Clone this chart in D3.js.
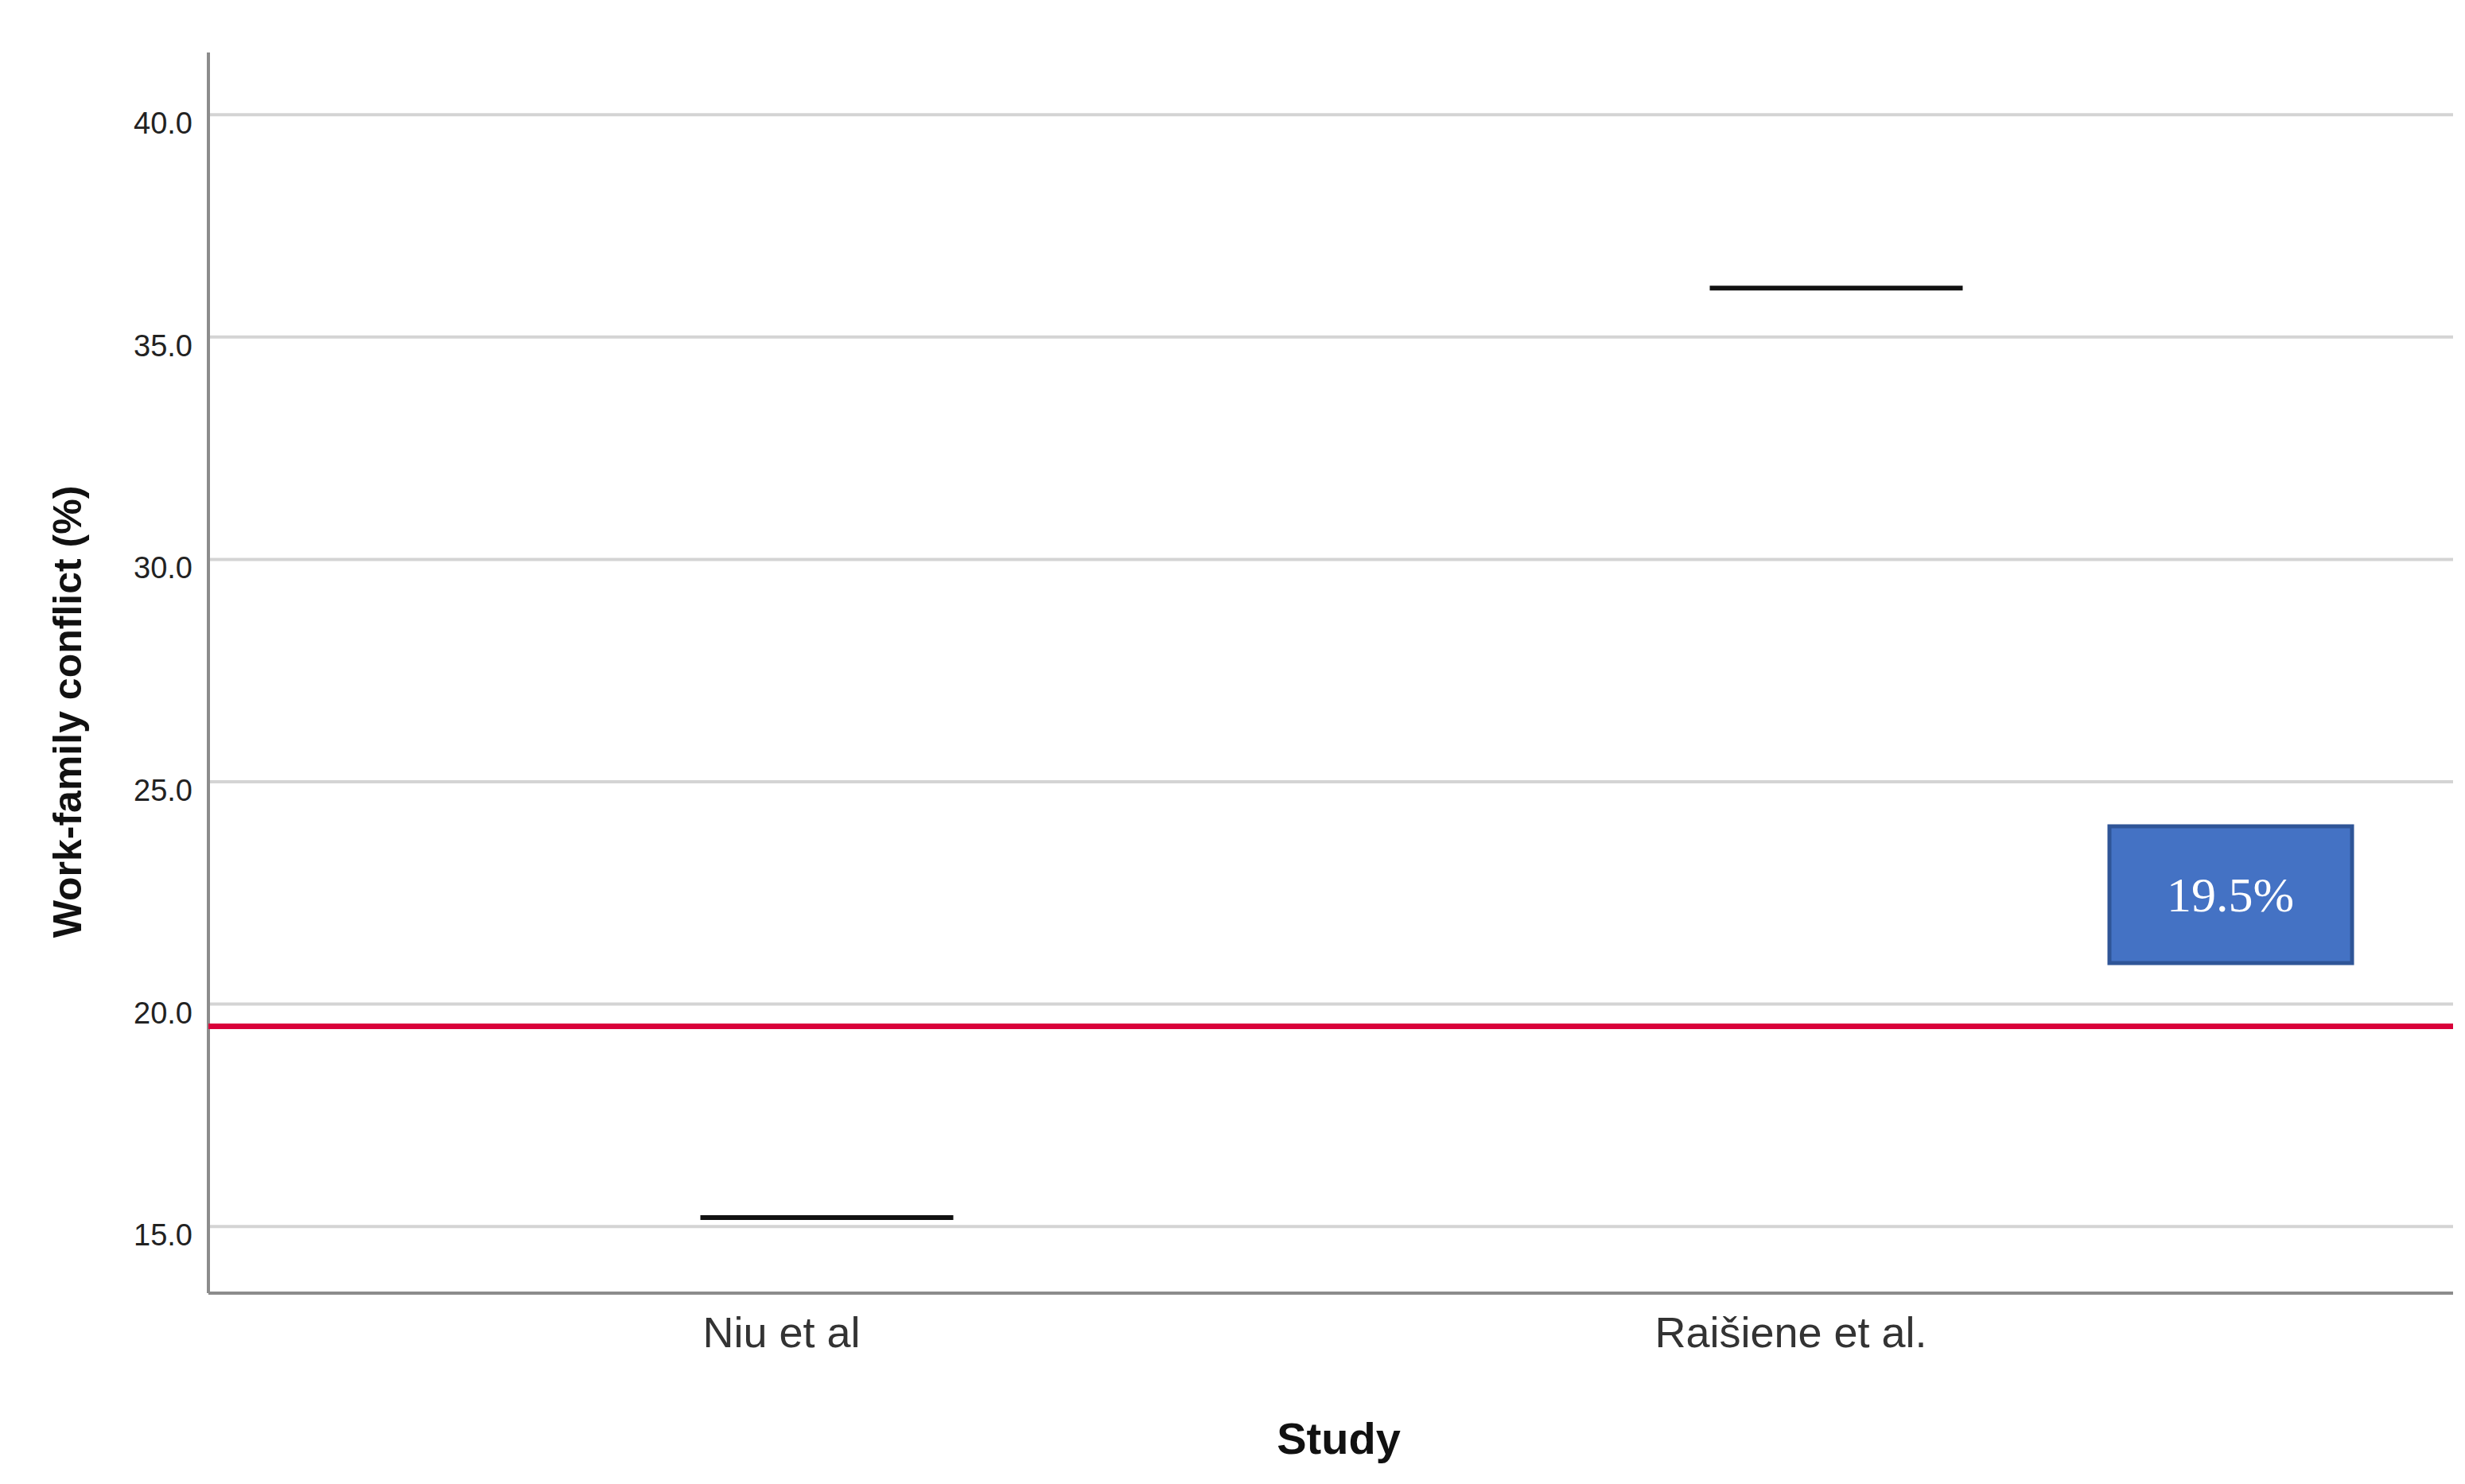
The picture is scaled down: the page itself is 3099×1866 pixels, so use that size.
<!DOCTYPE html><html><head><meta charset="utf-8"><script src="https://cdn.jsdelivr.net/npm/d3@7"></script>
<style>body{margin:0;background:#fff}</style></head><body><svg id="c" width="3099" height="1866"></svg>
<script>
const categories=["Niu et al","Raišiene et al."];
const values=[15.2,36.1];
const yTicks=[15,20,25,30,35,40];
const refValue=19.5;
const refLabel="19.5%";
const svg=d3.select("#c");
const L=262,R=3084,T=66,B=1626;
const y=d3.scaleLinear().domain([13.5,41.4]).range([B,T]);
const x=d3.scaleBand().domain(categories).range([348,2886]);
const g=svg.append("g");
g.selectAll(".gr").data(yTicks).join("line").attr("x1",L).attr("x2",R).attr("y1",d=>y(d)).attr("y2",d=>y(d)).attr("stroke","#d4d4d4").attr("stroke-width",4);
const ya=svg.append("g").attr("transform",`translate(${L},0)`).call(d3.axisLeft(y).tickValues(yTicks).tickFormat(d3.format(".1f")).tickSize(0).tickPadding(20));
ya.select(".domain").attr("stroke","#8c8c8c").attr("stroke-width",4).attr("d",`M0,${T}V${B}`);
ya.selectAll("text").attr("font-family","Liberation Sans, Arial").attr("font-size",38).attr("fill","#222").attr("dy","0.62em");
const xa=svg.append("g").attr("transform",`translate(0,${B})`).call(d3.axisBottom(x).tickSize(0).tickPadding(30));
xa.select(".domain").attr("stroke","#8c8c8c").attr("stroke-width",4).attr("d",`M${L},0H${R}`);
xa.selectAll("text").attr("font-family","Liberation Sans, Arial").attr("font-size",54).attr("fill","#333");
svg.append("line").attr("x1",L).attr("x2",R).attr("y1",y(refValue)).attr("y2",y(refValue)).attr("stroke","#d9003a").attr("stroke-width",7);
svg.selectAll(".m").data(values).join("line").attr("x1",(d,i)=>x(categories[i])+x.bandwidth()/2+57-159).attr("x2",(d,i)=>x(categories[i])+x.bandwidth()/2+57+159).attr("y1",d=>y(d)).attr("y2",d=>y(d)).attr("stroke","#111").attr("stroke-width",6);
svg.append("rect").attr("x",2652).attr("y",1039).attr("width",305).attr("height",172).attr("fill","#4472c4").attr("stroke","#2f5597").attr("stroke-width",5);
svg.append("text").attr("x",2804).attr("y",1125).attr("text-anchor","middle").attr("dominant-baseline","central").attr("font-family","Liberation Serif, serif").attr("font-size",62).attr("fill","#fff").text(refLabel);
svg.append("text").attr("transform","translate(85,895) rotate(-90)").attr("text-anchor","middle").attr("dominant-baseline","central").attr("font-family","Liberation Sans, Arial").attr("font-weight","bold").attr("font-size",50).attr("fill","#111").text("Work-family conflict (%)");
svg.append("text").attr("x",1683).attr("y",1808).attr("text-anchor","middle").attr("dominant-baseline","central").attr("font-family","Liberation Sans, Arial").attr("font-weight","bold").attr("font-size",56).attr("fill","#111").text("Study");
</script></body></html>
